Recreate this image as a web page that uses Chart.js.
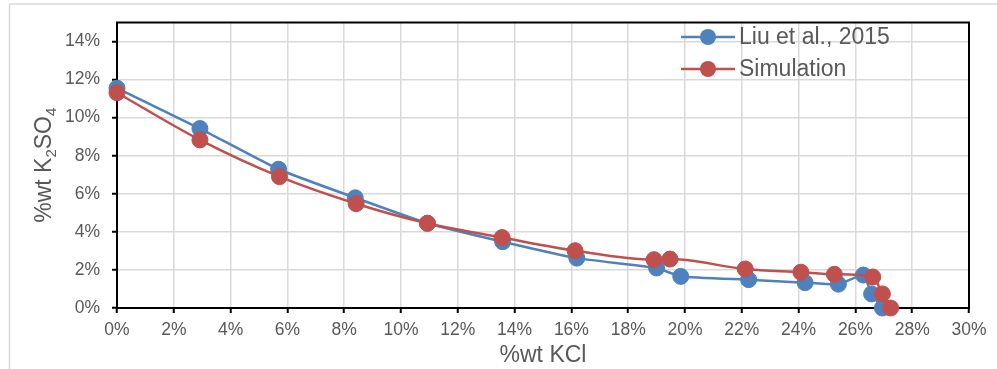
<!DOCTYPE html>
<html lang="en">
<head>
  <meta charset="UTF-8">
  <title>K2SO4 - KCl solubility</title>
  <script src="https://cdn.jsdelivr.net/npm/chart.js@4.4.0/dist/chart.umd.min.js"></script>
  <style>
    html, body { margin: 0; padding: 0; background: #fff; }
    #wrap { width: 997px; height: 369px; position: relative; }
  </style>
</head>
<body>
  <div id="wrap"><canvas id="chart" width="997" height="369"></canvas></div>
  <script>
// data, in %wt
const liuKCl   = [0, 2.92, 5.69, 8.39, 10.93, 13.58, 16.19, 19.0, 19.85, 22.24, 24.23, 25.40, 26.28, 26.57, 26.95];
const liuK2SO4 = [11.55, 9.43, 7.29, 5.79, 4.45, 3.48, 2.62, 2.10, 1.66, 1.49, 1.33, 1.25, 1.73, 0.74, 0];
const simKCl   = [0, 2.92, 5.72, 8.42, 10.93, 13.56, 16.13, 18.91, 19.47, 22.12, 24.08, 25.26, 26.61, 26.95, 27.24];
const simK2SO4 = [11.31, 8.83, 6.90, 5.48, 4.45, 3.70, 3.01, 2.54, 2.57, 2.05, 1.88, 1.77, 1.63, 0.74, 0];

const seriesNames = ["Liu et al., 2015", "Simulation"];
const xTicks = [0, 2, 4, 6, 8, 10, 12, 14, 16, 18, 20, 22, 24, 26, 28, 30];
const yTicks = [0, 2, 4, 6, 8, 10, 12, 14];

const blue = "#4f81bd";
const red = "#c0504d";
const grey = "#595959";
const fontFam = "'Liberation Sans', Arial, sans-serif";

function pts(xs, ys) {
  return xs.map((x, i) => ({x: x, y: ys[i]}));
}

// outer frame, plot box, y title and legend
const extras = {
  id: "extras",
  beforeDraw(chart) {
    const c = chart.ctx;
    c.save();
    c.fillStyle = "#fff";
    c.fillRect(0, 0, chart.width, chart.height);
    c.strokeStyle = "#d9d9d9";
    c.lineWidth = 1.5;
    c.beginPath();
    c.moveTo(chart.width, 4);
    c.lineTo(9.5, 4);
    c.lineTo(9.5, chart.height);
    c.stroke();
    c.restore();
  },
  beforeDatasetsDraw(chart) {
    const a = chart.chartArea;
    const c = chart.ctx;
    c.save();
    c.strokeStyle = "#000";
    c.lineWidth = 2;
    c.strokeRect(a.left, a.top, a.right - a.left, a.bottom - a.top);

    // rotated y title, "2" and "4" as subscripts
    const parts = [["%wt K", 23, 0], ["2", 15, 7], ["SO", 23, 0], ["4", 15, 7]];
    let w = 0;
    parts.forEach(p => { c.font = p[1] + "px " + fontFam; w += c.measureText(p[0]).width; });
    c.translate(45, (a.top + a.bottom) / 2);
    c.rotate(-Math.PI / 2);
    c.fillStyle = grey;
    c.textBaseline = "middle";
    let x = -w / 2;
    parts.forEach(p => {
      c.font = p[1] + "px " + fontFam;
      c.fillText(p[0], x, p[2]);
      x += c.measureText(p[0]).width;
    });
    c.restore();
  },
  afterDatasetsDraw(chart) {
    const c = chart.ctx;
    const rows = [[blue, 37], [red, 69]];
    c.save();
    rows.forEach((r, i) => {
      c.strokeStyle = r[0];
      c.lineWidth = 2.5;
      c.beginPath();
      c.moveTo(681, r[1]);
      c.lineTo(735, r[1]);
      c.stroke();
      c.fillStyle = r[0];
      c.beginPath();
      c.arc(708, r[1], 8, 0, Math.PI * 2);
      c.fill();
      c.fillStyle = grey;
      c.font = "23px " + fontFam;
      c.textBaseline = "middle";
      c.fillText(seriesNames[i], 739, r[1] + 1);
    });
    c.restore();
  }
};

new Chart("chart", {
  type: "line",
  data: {
    datasets: [
      {
        label: seriesNames[0],
        data: pts(liuKCl, liuK2SO4),
        borderColor: blue,
        backgroundColor: blue,
        pointBackgroundColor: blue,
        pointBorderColor: blue,
        borderWidth: 2.5,
        pointRadius: 8,
        pointBorderWidth: 1,
        tension: 0.15,
        clip: false,
        order: 1
      },
      {
        label: seriesNames[1],
        data: pts(simKCl, simK2SO4),
        borderColor: red,
        backgroundColor: red,
        pointBackgroundColor: red,
        pointBorderColor: red,
        borderWidth: 2.5,
        pointRadius: 8,
        pointBorderWidth: 1,
        tension: 0.3,
        cubicInterpolationMode: "monotone",
        clip: false,
        order: 0
      }
    ]
  },
  options: {
    responsive: false,
    animation: false,
    layout: { padding: { left: 0, top: 16, right: 28, bottom: 0 } },
    plugins: {
      legend: { display: false },
      tooltip: { enabled: false }
    },
    scales: {
      x: {
        type: "linear",
        min: 0,
        max: 30,
        afterBuildTicks: s => { s.ticks = xTicks.map(v => ({value: v})); },
        afterFit: s => { s.height = 61; },
        ticks: {
          color: grey,
          padding: 7,
          maxRotation: 0,
          font: { family: fontFam, size: 17.5 },
          callback: v => v + "%"
        },
        grid: { color: "#d9d9d9", lineWidth: 1.5, tickColor: "#000", tickLength: 5, tickWidth: 2 },
        border: { color: "#000", width: 2 },
        title: {
          display: true,
          text: "%wt KCl",
          color: grey,
          font: { family: fontFam, size: 23 },
          padding: { top: 2, bottom: 0 }
        }
      },
      y: {
        type: "linear",
        min: 0,
        max: 15,
        afterBuildTicks: s => { s.ticks = yTicks.map(v => ({value: v})); },
        afterFit: s => { s.width = 117; },
        ticks: {
          color: grey,
          padding: 12,
          font: { family: fontFam, size: 17.5 },
          callback: v => v + "%"
        },
        grid: { color: "#d9d9d9", lineWidth: 1.5, tickColor: "#000", tickLength: 5, tickWidth: 2 },
        border: { color: "#000", width: 2 }
      }
    }
  },
  plugins: [extras]
});
  </script>
</body>
</html>
